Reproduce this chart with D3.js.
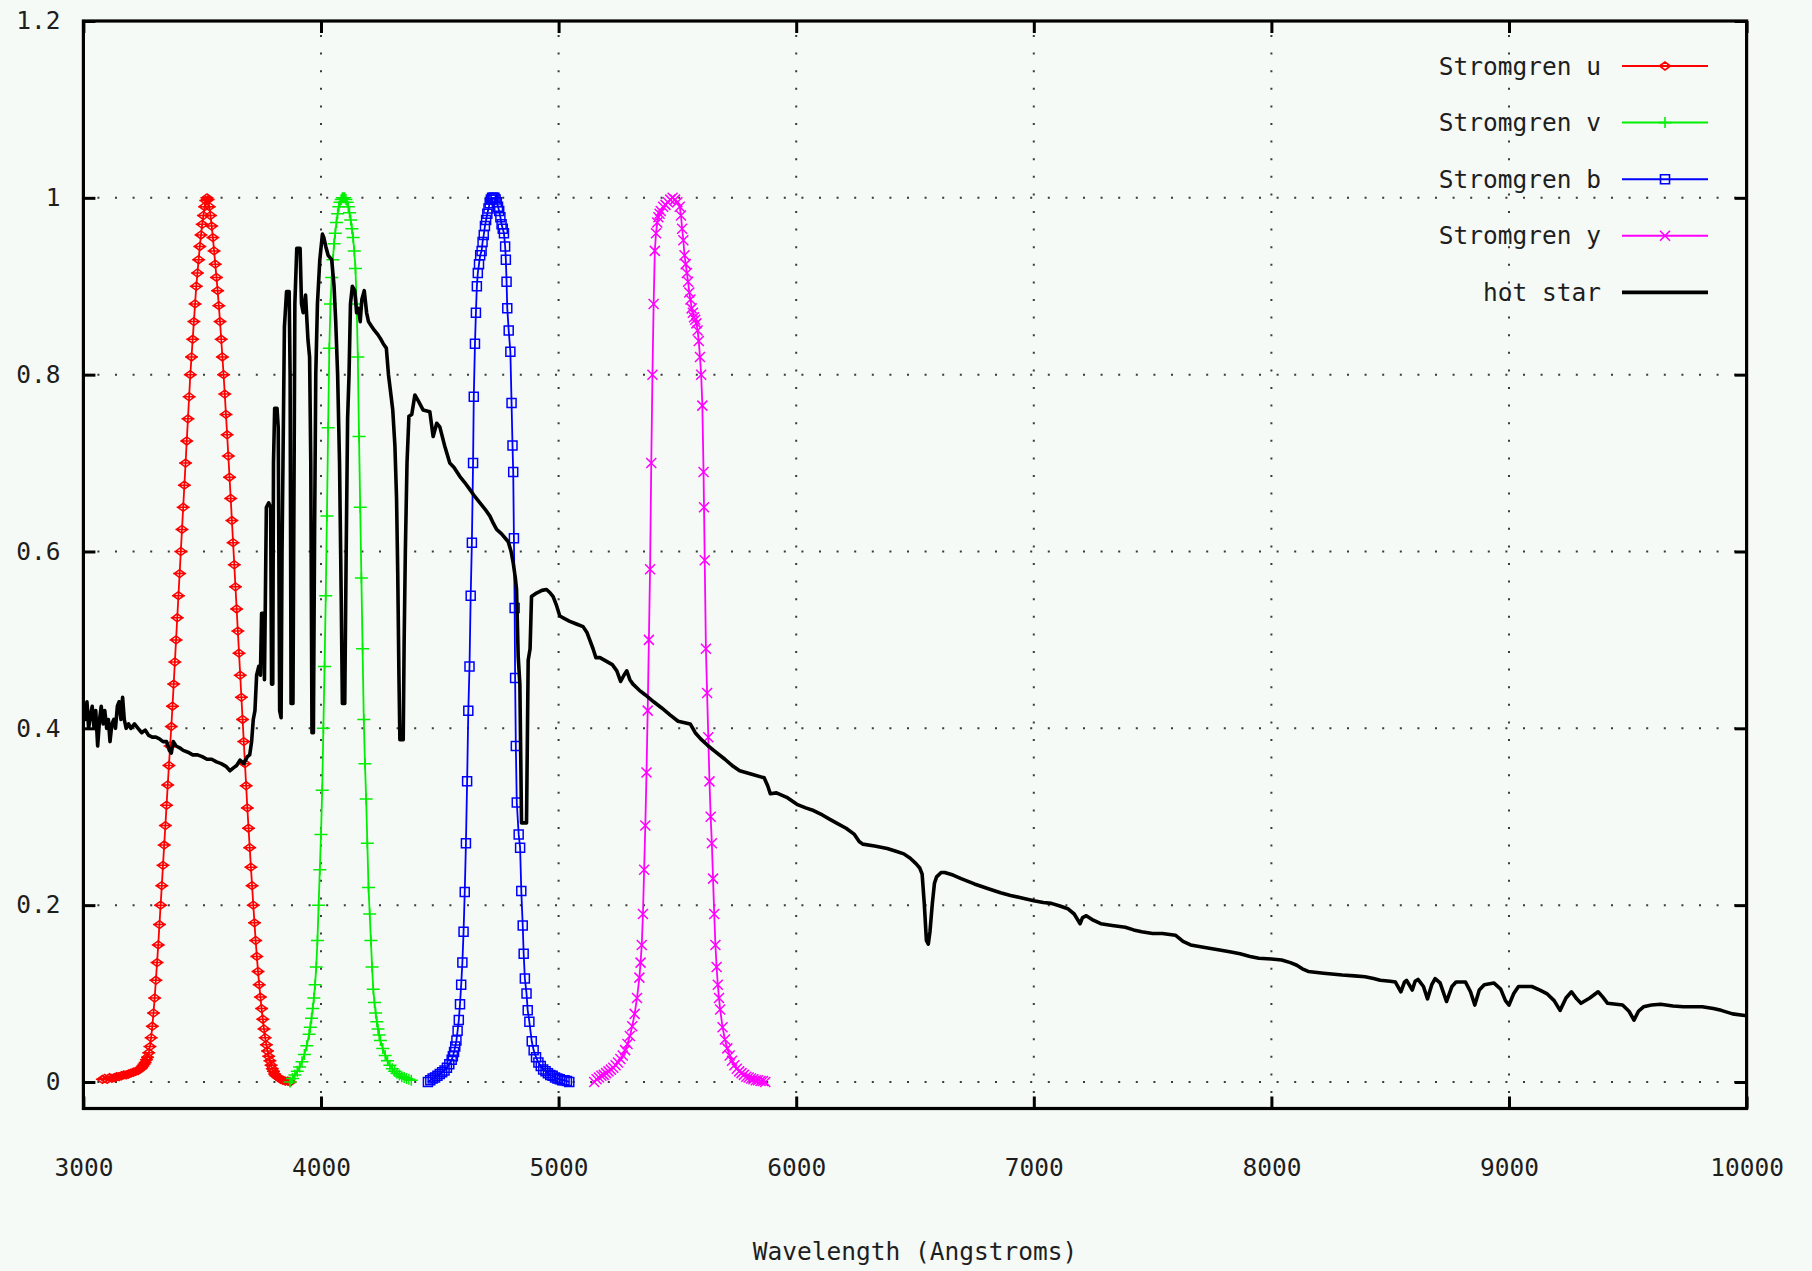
<!DOCTYPE html>
<html><head><meta charset="utf-8">
<script src="https://cdn.jsdelivr.net/npm/d3@7"></script>
<style>
html,body{margin:0;padding:0;background:#f5faf6;}
svg{display:block;}
text{font-family:"DejaVu Sans Mono","Liberation Mono",monospace;font-size:24.5px;fill:#1e1e1e;}
</style></head><body>
<svg id="chart" width="1812" height="1271"></svg>
<script>
// ---------------- data ----------------
const xTicks = [3000,4000,5000,6000,7000,8000,9000,10000];
const xTickLabels = ["3000","4000","5000","6000","7000","8000","9000","10000"];
const yTicks = [0,0.2,0.4,0.6,0.8,1.0,1.2];
const yTickLabels = ["0","0.2","0.4","0.6","0.8","1","1.2"];
const seriesNames = ["Stromgren u","Stromgren v","Stromgren b","Stromgren y","hot star"];
const xTitle = "Wavelength (Angstroms)";

const uFilter = [[3080,0.003],[3090,0.004],[3100,0.003],[3110,0.005],[3120,0.004],[3130,0.005],[3140,0.006],[3150,0.006],[3160,0.007],[3170,0.008],[3180,0.008],[3190,0.009],[3200,0.01],[3210,0.011],[3220,0.012],[3230,0.013],[3240,0.015],[3245,0.016],[3250,0.018],[3255,0.02],[3260,0.022],[3265,0.025],[3270,0.028],[3275,0.033],[3280,0.04],[3285,0.05],[3290,0.063],[3295,0.078],[3300,0.095],[3305,0.115],[3310,0.135],[3315,0.155],[3320,0.178],[3325,0.2],[3330,0.222],[3335,0.245],[3340,0.268],[3345,0.29],[3350,0.313],[3355,0.336],[3360,0.358],[3365,0.38],[3370,0.402],[3375,0.425],[3380,0.45],[3385,0.475],[3390,0.5],[3395,0.525],[3400,0.55],[3405,0.575],[3410,0.6],[3415,0.625],[3420,0.65],[3425,0.675],[3430,0.7],[3435,0.725],[3440,0.75],[3445,0.775],[3450,0.8],[3455,0.82],[3460,0.84],[3465,0.86],[3470,0.88],[3475,0.9],[3480,0.915],[3485,0.93],[3490,0.945],[3495,0.958],[3500,0.97],[3505,0.98],[3510,0.99],[3515,0.997],[3520,1.0],[3525,0.998],[3530,0.99],[3535,0.98],[3540,0.968],[3545,0.955],[3550,0.94],[3555,0.925],[3560,0.91],[3565,0.895],[3570,0.878],[3575,0.86],[3580,0.84],[3585,0.82],[3590,0.8],[3595,0.778],[3600,0.755],[3605,0.732],[3610,0.708],[3615,0.684],[3620,0.66],[3625,0.635],[3630,0.61],[3635,0.585],[3640,0.56],[3645,0.535],[3650,0.51],[3655,0.485],[3660,0.46],[3665,0.435],[3670,0.41],[3675,0.385],[3680,0.36],[3685,0.335],[3690,0.31],[3695,0.287],[3700,0.265],[3705,0.243],[3710,0.222],[3715,0.2],[3720,0.18],[3725,0.16],[3730,0.142],[3735,0.125],[3740,0.11],[3745,0.096],[3750,0.083],[3755,0.071],[3760,0.06],[3765,0.05],[3770,0.042],[3775,0.035],[3780,0.029],[3785,0.024],[3790,0.019],[3795,0.015],[3800,0.012],[3805,0.009],[3810,0.007],[3820,0.005],[3830,0.003],[3840,0.002],[3850,0.001],[3860,0.001],[3870,0.0]];

const vFilter = [[3870,0.0],[3880,0.004],[3890,0.008],[3900,0.012],[3910,0.017],[3920,0.023],[3930,0.031],[3940,0.041],[3950,0.054],[3955,0.062],[3960,0.072],[3965,0.083],[3970,0.095],[3975,0.11],[3980,0.13],[3985,0.16],[3990,0.2],[3995,0.24],[4000,0.28],[4005,0.33],[4010,0.4],[4015,0.47],[4020,0.55],[4025,0.64],[4030,0.74],[4035,0.83],[4040,0.88],[4045,0.91],[4050,0.93],[4055,0.948],[4060,0.96],[4065,0.972],[4070,0.982],[4075,0.99],[4080,0.995],[4085,0.998],[4090,1.0],[4095,1.0],[4100,1.0],[4105,0.998],[4110,0.995],[4115,0.99],[4120,0.983],[4125,0.975],[4130,0.965],[4135,0.955],[4140,0.94],[4145,0.92],[4150,0.88],[4155,0.82],[4160,0.73],[4165,0.65],[4170,0.57],[4175,0.49],[4180,0.41],[4185,0.36],[4190,0.32],[4195,0.27],[4200,0.22],[4205,0.19],[4210,0.16],[4215,0.13],[4220,0.105],[4225,0.09],[4230,0.078],[4235,0.068],[4240,0.06],[4245,0.053],[4250,0.047],[4260,0.038],[4270,0.03],[4280,0.024],[4290,0.019],[4300,0.015],[4310,0.012],[4320,0.01],[4330,0.008],[4340,0.006],[4350,0.005],[4360,0.004],[4370,0.003],[4380,0.002]];

const bFilter = [[4450,0.0],[4460,0.002],[4470,0.004],[4480,0.005],[4490,0.007],[4500,0.009],[4510,0.011],[4520,0.013],[4530,0.016],[4540,0.02],[4550,0.025],[4555,0.029],[4560,0.034],[4565,0.04],[4570,0.047],[4575,0.058],[4580,0.07],[4585,0.088],[4590,0.11],[4595,0.135],[4600,0.17],[4605,0.215],[4610,0.27],[4615,0.34],[4620,0.42],[4625,0.47],[4630,0.55],[4635,0.61],[4640,0.7],[4643,0.775],[4648,0.835],[4652,0.87],[4656,0.9],[4660,0.915],[4665,0.925],[4670,0.935],[4676,0.94],[4680,0.95],[4685,0.958],[4690,0.968],[4695,0.975],[4700,0.982],[4705,0.988],[4710,0.994],[4715,0.998],[4720,1.0],[4725,1.0],[4730,1.0],[4735,0.998],[4740,0.995],[4745,0.99],[4750,0.985],[4755,0.978],[4760,0.97],[4765,0.965],[4770,0.96],[4775,0.945],[4778,0.93],[4781,0.905],[4784,0.875],[4790,0.85],[4797,0.826],[4802,0.768],[4806,0.72],[4809,0.69],[4812,0.615],[4815,0.536],[4817,0.457],[4820,0.38],[4824,0.316],[4832,0.28],[4838,0.265],[4843,0.216],[4849,0.177],[4853,0.145],[4858,0.117],[4865,0.1],[4870,0.081],[4877,0.068],[4887,0.046],[4895,0.036],[4905,0.028],[4915,0.022],[4925,0.018],[4935,0.014],[4945,0.012],[4955,0.01],[4965,0.008],[4975,0.007],[4985,0.005],[4995,0.004],[5005,0.003],[5015,0.002],[5025,0.002],[5035,0.001],[5045,0.0]];

const yFilter = [[5150,0.0],[5160,0.003],[5170,0.005],[5180,0.007],[5190,0.008],[5200,0.01],[5210,0.012],[5220,0.014],[5230,0.016],[5240,0.019],[5250,0.022],[5260,0.026],[5270,0.03],[5280,0.036],[5290,0.043],[5300,0.052],[5310,0.063],[5320,0.077],[5330,0.095],[5340,0.118],[5345,0.135],[5350,0.155],[5355,0.19],[5360,0.24],[5365,0.29],[5370,0.35],[5375,0.42],[5380,0.5],[5385,0.58],[5390,0.7],[5395,0.8],[5400,0.88],[5405,0.94],[5410,0.96],[5415,0.972],[5420,0.978],[5425,0.982],[5430,0.985],[5440,0.99],[5450,0.992],[5460,0.995],[5470,0.998],[5480,1.0],[5490,0.998],[5500,0.995],[5510,0.99],[5515,0.98],[5520,0.965],[5525,0.952],[5530,0.935],[5535,0.925],[5540,0.915],[5545,0.905],[5550,0.893],[5555,0.885],[5560,0.875],[5565,0.87],[5570,0.865],[5575,0.862],[5580,0.858],[5585,0.85],[5590,0.838],[5595,0.82],[5600,0.8],[5605,0.765],[5610,0.69],[5612,0.65],[5615,0.59],[5620,0.49],[5625,0.44],[5630,0.39],[5635,0.34],[5640,0.3],[5645,0.27],[5650,0.23],[5655,0.19],[5660,0.155],[5665,0.13],[5670,0.11],[5675,0.095],[5680,0.082],[5690,0.062],[5700,0.048],[5710,0.038],[5720,0.03],[5730,0.024],[5740,0.019],[5750,0.015],[5760,0.012],[5770,0.01],[5780,0.008],[5790,0.006],[5800,0.005],[5810,0.004],[5820,0.003],[5830,0.002],[5840,0.002],[5850,0.001],[5860,0.001],[5870,0.0]];

const hotStar = [[3000,0.42],[3008,0.41],[3015,0.43],[3022,0.40],[3030,0.415],[3037,0.425],[3045,0.40],[3052,0.42],[3060,0.38],[3068,0.41],[3075,0.425],[3083,0.405],[3090,0.42],[3098,0.40],[3105,0.41],[3112,0.385],[3120,0.405],[3128,0.41],[3135,0.40],[3143,0.425],[3150,0.43],[3158,0.41],[3165,0.435],[3172,0.41],[3180,0.40],[3190,0.405],[3200,0.40],[3215,0.405],[3230,0.40],[3245,0.395],[3260,0.398],[3275,0.392],[3290,0.39],[3305,0.39],[3320,0.388],[3335,0.385],[3350,0.385],[3362,0.375],[3370,0.372],[3378,0.385],[3390,0.38],[3405,0.378],[3420,0.375],[3440,0.373],[3460,0.37],[3480,0.37],[3500,0.368],[3520,0.365],[3540,0.365],[3560,0.362],[3580,0.36],[3600,0.357],[3617,0.352],[3630,0.355],[3645,0.358],[3659,0.364],[3675,0.36],[3690,0.368],[3700,0.37],[3708,0.385],[3715,0.41],[3722,0.42],[3729,0.46],[3738,0.47],[3745,0.46],[3750,0.53],[3758,0.53],[3762,0.455],[3766,0.55],[3770,0.65],[3780,0.655],[3788,0.65],[3792,0.45],[3797,0.45],[3800,0.70],[3805,0.762],[3815,0.762],[3820,0.74],[3826,0.42],[3832,0.412],[3836,0.60],[3840,0.70],[3846,0.854],[3855,0.894],[3866,0.894],[3870,0.80],[3874,0.428],[3882,0.428],[3886,0.65],[3890,0.88],[3898,0.943],[3912,0.943],[3918,0.88],[3925,0.87],[3935,0.89],[3945,0.84],[3952,0.82],[3957,0.70],[3962,0.395],[3968,0.395],[3973,0.62],[3978,0.80],[3985,0.88],[3995,0.93],[4006,0.959],[4012,0.955],[4020,0.945],[4030,0.935],[4045,0.93],[4055,0.90],[4062,0.86],[4070,0.80],[4078,0.70],[4085,0.55],[4090,0.428],[4100,0.428],[4106,0.60],[4112,0.75],[4118,0.80],[4124,0.88],[4132,0.90],[4142,0.895],[4150,0.87],[4158,0.875],[4165,0.86],[4172,0.885],[4182,0.895],[4192,0.87],[4200,0.86],[4212,0.855],[4225,0.85],[4240,0.845],[4252,0.84],[4262,0.835],[4275,0.83],[4284,0.80],[4293,0.78],[4302,0.76],[4311,0.72],[4318,0.66],[4323,0.575],[4328,0.46],[4332,0.387],[4346,0.387],[4350,0.50],[4355,0.60],[4362,0.70],[4370,0.753],[4382,0.755],[4395,0.777],[4410,0.770],[4430,0.760],[4458,0.758],[4472,0.730],[4487,0.745],[4500,0.741],[4520,0.72],[4542,0.700],[4560,0.695],[4584,0.685],[4605,0.678],[4627,0.670],[4648,0.662],[4669,0.655],[4690,0.648],[4711,0.640],[4725,0.632],[4739,0.625],[4760,0.620],[4788,0.611],[4800,0.600],[4809,0.587],[4818,0.570],[4823,0.557],[4830,0.481],[4837,0.45],[4844,0.293],[4865,0.293],[4869,0.40],[4872,0.477],[4880,0.49],[4886,0.549],[4907,0.553],[4930,0.556],[4949,0.557],[4965,0.553],[4977,0.549],[4990,0.54],[5005,0.527],[5025,0.524],[5047,0.521],[5075,0.518],[5103,0.515],[5120,0.508],[5131,0.500],[5145,0.49],[5157,0.480],[5174,0.480],[5200,0.476],[5226,0.472],[5245,0.465],[5261,0.453],[5275,0.46],[5287,0.465],[5300,0.455],[5313,0.450],[5340,0.443],[5364,0.438],[5400,0.43],[5434,0.423],[5470,0.415],[5503,0.408],[5554,0.405],[5575,0.395],[5598,0.388],[5630,0.38],[5658,0.374],[5700,0.365],[5730,0.358],[5762,0.352],[5813,0.348],[5865,0.344],[5880,0.335],[5891,0.326],[5917,0.327],[5960,0.322],[6003,0.314],[6040,0.310],[6073,0.307],[6110,0.302],[6142,0.297],[6176,0.292],[6210,0.287],[6245,0.280],[6265,0.272],[6280,0.269],[6330,0.267],[6383,0.264],[6420,0.261],[6453,0.258],[6480,0.253],[6504,0.247],[6520,0.242],[6530,0.235],[6539,0.202],[6548,0.160],[6556,0.156],[6563,0.17],[6573,0.202],[6582,0.225],[6591,0.232],[6610,0.237],[6625,0.237],[6660,0.234],[6694,0.230],[6750,0.224],[6815,0.218],[6860,0.214],[6902,0.211],[6950,0.208],[7000,0.205],[7040,0.203],[7074,0.202],[7110,0.199],[7143,0.196],[7170,0.19],[7195,0.179],[7205,0.186],[7221,0.188],[7250,0.183],[7282,0.179],[7330,0.177],[7385,0.175],[7420,0.172],[7454,0.170],[7500,0.168],[7541,0.168],[7596,0.166],[7628,0.159],[7660,0.155],[7720,0.152],[7788,0.149],[7830,0.147],[7868,0.145],[7910,0.142],[7947,0.140],[8000,0.139],[8043,0.138],[8080,0.135],[8107,0.132],[8130,0.128],[8155,0.125],[8220,0.123],[8298,0.121],[8350,0.120],[8394,0.119],[8430,0.117],[8458,0.115],[8500,0.114],[8522,0.113],[8545,0.102],[8560,0.113],[8569,0.115],[8593,0.104],[8605,0.114],[8617,0.116],[8640,0.108],[8657,0.094],[8675,0.110],[8689,0.117],[8710,0.112],[8737,0.091],[8760,0.108],[8777,0.113],[8817,0.113],[8838,0.102],[8856,0.087],[8875,0.104],[8896,0.110],[8936,0.112],[8965,0.105],[8985,0.092],[9000,0.087],[9020,0.100],[9040,0.108],[9096,0.108],[9130,0.104],[9159,0.100],[9190,0.092],[9215,0.081],[9240,0.095],[9263,0.102],[9285,0.094],[9303,0.089],[9340,0.095],[9375,0.102],[9395,0.096],[9415,0.089],[9478,0.087],[9505,0.080],[9526,0.070],[9545,0.080],[9566,0.085],[9600,0.087],[9638,0.088],[9690,0.086],[9734,0.085],[9813,0.085],[9860,0.083],[9893,0.081],[9941,0.077],[10000,0.075]];

// ---------------- drawing ----------------
const W = 1812, H = 1271;
const plot = {left: 83.4, right: 1746.6, top: 21, bottom: 1108.5};
const x = d3.scaleLinear().domain([3000, 10000]).range([plot.left, plot.right]);
const y = d3.scaleLinear().domain([-0.03, 1.2]).range([plot.bottom, plot.top]);

const svg = d3.select("#chart");
svg.append("rect").attr("width", W).attr("height", H).attr("fill", "#f5faf6");

svg.append("defs").append("clipPath").attr("id", "clip")
  .append("rect").attr("x", plot.left).attr("y", plot.top)
  .attr("width", plot.right - plot.left).attr("height", plot.bottom - plot.top);

// grid
const grid = svg.append("g").attr("stroke", "#3a3a3a").attr("stroke-width", 2).attr("stroke-dasharray", "2 15.6");
grid.selectAll("line.gx").data(xTicks.slice(1, -1)).join("line").attr("class", "gx")
  .attr("x1", d => x(d)).attr("x2", d => x(d)).attr("y1", plot.top + 14).attr("y2", plot.bottom);
grid.selectAll("line.gy").data(yTicks.filter(d => d < 1.2)).join("line").attr("class", "gy")
  .attr("x1", plot.left + 14).attr("x2", plot.right).attr("y1", d => y(d)).attr("y2", d => y(d));

// series
const colors = ["#ff0000", "#00ee00", "#0000ff", "#ff00ff", "#000000"];
const markers = [
  "M-5.5,0L0,-4L5.5,0L0,4Z M-6.5,0H6.5",   // diamond
  "M-6.5,0H6.5M0,-5.5V5.5",                // plus
  "M-4.5,-4.5H4.5V4.5H-4.5Z",              // box
  "M-5,-5L5,5M-5,5L5,-5"                   // cross
];
const filters = [uFilter, vFilter, bFilter, yFilter];
const line = d3.line().x(d => x(d[0])).y(d => y(d[1]));
const plotG = svg.append("g").attr("clip-path", "url(#clip)");

filters.forEach((f, i) => {
  const g = plotG.append("g");
  g.append("path").datum(f).attr("d", line).attr("fill", "none")
    .attr("stroke", colors[i]).attr("stroke-width", 1.8);
  g.selectAll("path.mk").data(f).join("path").attr("class", "mk")
    .attr("transform", d => `translate(${x(d[0])},${y(d[1])})`)
    .attr("d", markers[i]).attr("fill", "none").attr("stroke", colors[i]).attr("stroke-width", 1.5);
});
plotG.append("path").datum(hotStar).attr("d", line).attr("fill", "none")
  .attr("stroke", "#000").attr("stroke-width", 3.6).attr("stroke-linejoin", "round");

// axes
const tickStyle = g => {
  g.select(".domain").remove();
  g.selectAll(".tick line").attr("stroke", "#000").attr("stroke-width", 3);
};
svg.append("g").attr("transform", `translate(${plot.left},0)`)
  .call(d3.axisLeft(y).tickValues(yTicks).tickFormat((d, i) => yTickLabels[i]).tickSizeInner(-12).tickSizeOuter(0).tickPadding(23))
  .call(tickStyle);
svg.append("g").attr("transform", `translate(${plot.right},0)`)
  .call(d3.axisRight(y).tickValues(yTicks).tickFormat("").tickSizeInner(-12).tickSizeOuter(0))
  .call(tickStyle);
svg.append("g").attr("transform", `translate(0,${plot.bottom})`)
  .call(d3.axisBottom(x).tickValues(xTicks).tickFormat((d, i) => xTickLabels[i]).tickSizeInner(-12).tickSizeOuter(0).tickPadding(50))
  .call(tickStyle);
svg.append("g").attr("transform", `translate(0,${plot.top})`)
  .call(d3.axisTop(x).tickValues(xTicks).tickFormat("").tickSizeInner(-12).tickSizeOuter(0))
  .call(tickStyle);

svg.append("rect").attr("x", plot.left).attr("y", plot.top)
  .attr("width", plot.right - plot.left).attr("height", plot.bottom - plot.top)
  .attr("fill", "none").attr("stroke", "#000").attr("stroke-width", 3.2);

// axis title
svg.append("text").attr("x", (plot.left + plot.right) / 2).attr("y", 1260)
  .attr("text-anchor", "middle").text(xTitle);

// legend
const leg = svg.append("g");
seriesNames.forEach((name, i) => {
  const ly = 66 + i * 56.6;
  leg.append("text").attr("x", 1601).attr("y", ly).attr("dy", "0.35em")
    .attr("text-anchor", "end").text(name);
  leg.append("line").attr("x1", 1622).attr("x2", 1708).attr("y1", ly).attr("y2", ly)
    .attr("stroke", colors[i]).attr("stroke-width", i === 4 ? 3.8 : 2);
  if (i < 4) {
    leg.append("path").attr("transform", `translate(1665,${ly})`).attr("d", markers[i])
      .attr("fill", "none").attr("stroke", colors[i]).attr("stroke-width", 1.6);
  }
});
</script>
</body></html>
